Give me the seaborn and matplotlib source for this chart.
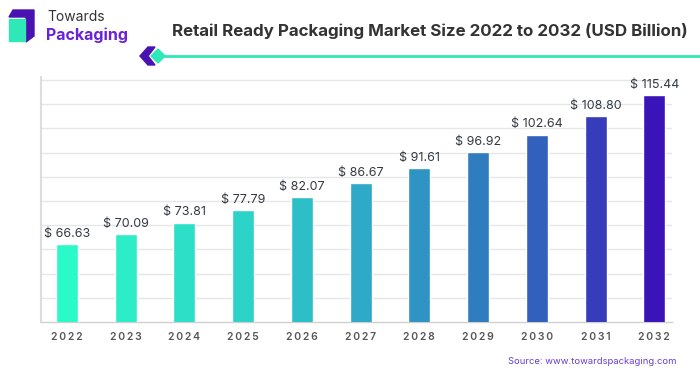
import numpy as np
import seaborn as sns
import matplotlib.pyplot as plt
from matplotlib.colors import LinearSegmentedColormap
from matplotlib.patches import Polygon, Rectangle

years = ['2022', '2023', '2024', '2025', '2026', '2027', '2028', '2029', '2030', '2031', '2032']
market_size = [66.63, 70.09, 73.81, 77.79, 82.07, 86.67, 91.61, 96.92, 102.64, 108.80, 115.44]
value_labels = ['$ 66.63', '$ 70.09', '$ 73.81', '$ 77.79', '$ 82.07', '$ 86.67',
                '$ 91.61', '$ 96.92', '$ 102.64', '$ 108.80', '$ 115.44']
title = 'Retail Ready Packaging Market Size 2022 to 2032 (USD Billion)'
source = 'Source: www.towardspackaging.com'

sns.set_theme(style='white')
plt.rcParams['font.family'] = ['Inter', 'DejaVu Sans']

# mint -> purple gradient across the bars
cmap = LinearSegmentedColormap.from_list(
    'tp', ['#2BF9C8', '#2CE4C6', '#2DCDC8', '#2EA9C8', '#2E86C0', '#3358BC', '#3A14B8'])
colors = [cmap(i / (len(years) - 1)) for i in range(len(years))]

fig = plt.figure(figsize=(7, 3.75), dpi=100)
ax = fig.add_axes([0.0586, 0.1413, 0.9014, 0.6534])

sns.barplot(x=years, y=market_size, hue=years, palette=colors, legend=False,
            width=0.375, saturation=1, ax=ax, zorder=3)

for cont, lab in zip(ax.containers, value_labels):
    ax.bar_label(cont, labels=[lab], padding=3, fontsize=9, color='#333a45')

ax.set_xlim(-0.44, 10.3)
ax.set_ylim(41.2, 121.5)
ax.set_yticks(41.2 + 7.93 * np.arange(1, 11))
ax.yaxis.grid(True, color='#e6e6e6', linewidth=1, zorder=0)
ax.set_yticklabels([])
ax.tick_params(axis='y', length=0)
ax.tick_params(axis='x', length=0, pad=7)
ax.set_xticks(range(len(years)))
ax.set_xticklabels(['\u2009'.join(y) for y in years], fontsize=7.5,
                   fontweight='semibold', color='#555555')
ax.set_xlabel('')
ax.set_ylabel('')
for s in ['top', 'right']:
    ax.spines[s].set_visible(False)
ax.spines['left'].set_color('#dddddd')
ax.spines['left'].set_linewidth(1.5)
ax.spines['bottom'].set_color('#d0d0d0')
ax.spines['bottom'].set_linewidth(1)

# title and source
fig.text(0.982, 0.917, title, ha='right', va='center', fontsize=12.2,
         fontweight='bold', color='#333333')
fig.text(0.967, 0.035, source, ha='right', va='center', fontsize=6.8,
         color='#6a3fd0')

# header decoration: chevron + diamond + mint line
deco = fig.add_axes([0, 0, 1, 1], zorder=-1)
deco.set_xlim(0, 700)
deco.set_ylim(375, 0)
deco.axis('off')
deco.plot([163, 700], [56, 56], color='#2EE8B8', linewidth=2)
deco.add_patch(Polygon([[148, 47], [155, 47], [148, 56], [155, 65], [148, 65], [140, 56]],
                       closed=True, color='#4A12B0'))
deco.add_patch(Polygon([[158, 49], [165, 56], [158, 63], [151, 56]],
                       closed=True, color='#2EE8B8'))

# logo
deco.add_patch(Polygon([[13, 10], [34, 10], [34, 36], [26, 42], [26, 17], [9, 17]],
                       closed=True, color='#4A12B0'))
deco.add_patch(Rectangle((9, 19), 16, 22, color='#2EE8B8'))
deco.text(47, 17, 'Towards', fontsize=10, color='#333333', va='center')
deco.text(46, 35, 'Packaging', fontsize=11.5, fontweight='bold', color='#6a22d8', va='center')

fig.savefig('out.png', dpi=100)
